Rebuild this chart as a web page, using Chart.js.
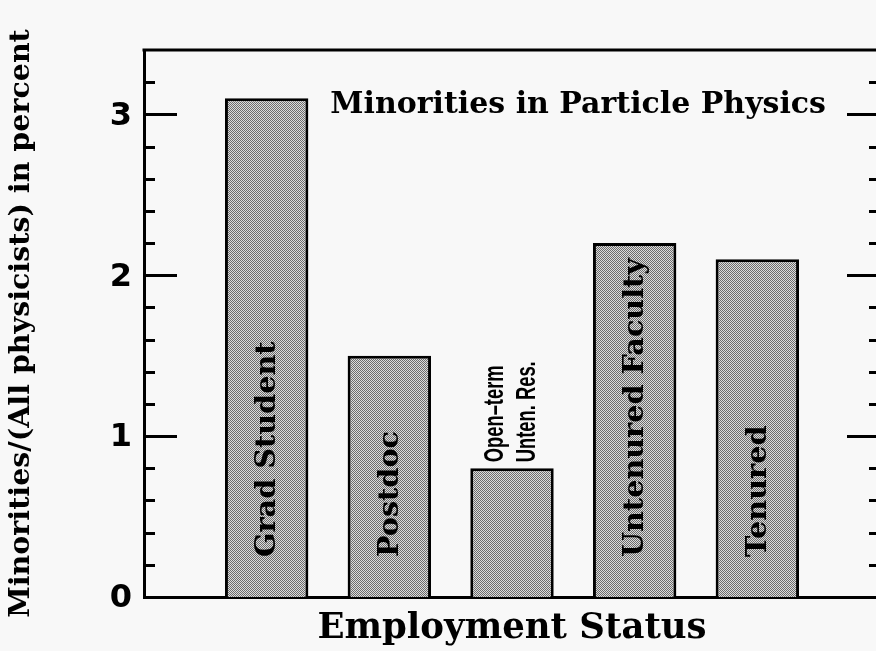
<!DOCTYPE html>
<html>
<head>
<meta charset="utf-8">
<script src="https://cdn.jsdelivr.net/npm/chart.js@4/dist/chart.umd.min.js"></script>
<style>
  html, body { margin: 0; padding: 0; background: #f8f8f8; overflow: hidden; }
  #wrap { width: 890px; height: 651px; }
</style>
</head>
<body>
<div id="wrap"><canvas id="chart" width="890" height="651"></canvas></div>
<script>
"use strict";

const CATEGORIES = ["Grad Student", "Postdoc", "Open–term\nUnten. Res.", "Untenured Faculty", "Tenured"];
const PERCENTAGES = [3.1, 1.5, 0.8, 2.2, 2.1];
const Y_TICK_LABELS = ["0", "1", "2", "3"];
const Y_MAX = 3.4;
const MINOR_STEP = 0.2;
const TITLE = "Minorities in Particle Physics";
const X_TITLE = "Employment Status";
const Y_TITLE = "Minorities/(All physicists) in percent";

const SERIF = "'DejaVu Serif', serif";
const SANS = "'DejaVu Sans', sans-serif";

const canvas = document.getElementById("chart");
const ctx2d = canvas.getContext("2d");

// grey dither like the printed fill
const makeDither = () => {
  const c = document.createElement("canvas");
  c.width = 2;
  c.height = 2;
  const g = c.getContext("2d");
  g.fillStyle = "#dcdcdc";
  g.fillRect(0, 0, 2, 2);
  g.fillStyle = "#6c6c6c";
  g.fillRect(0, 0, 1, 1);
  g.fillRect(1, 1, 1, 1);
  return ctx2d.createPattern(c, "repeat");
};

// frame, inner ticks, title and labels on the bars
const framePlugin = {
  id: "frame",
  afterDatasetsDraw(chart) {
    const { ctx, chartArea: a } = chart;
    const ys = chart.scales.y;
    ctx.save();
    ctx.strokeStyle = "#000";
    ctx.lineWidth = 3;
    ctx.beginPath();
    ctx.moveTo(a.left - 1.5, a.top);
    ctx.lineTo(a.right, a.top);
    ctx.lineTo(a.right, a.bottom);
    ctx.stroke();

    const n = Math.round(Y_MAX / MINOR_STEP);
    for (let i = 1; i < n; i++) {
      const v = i * MINOR_STEP;
      const y = Math.round(ys.getPixelForValue(v)) + 0.5;
      const major = Math.abs(v - Math.round(v)) < 1e-6;
      const len = major ? 33 : 11;
      ctx.beginPath();
      ctx.moveTo(a.left, y);
      ctx.lineTo(a.left + len, y);
      ctx.moveTo(a.right - len, y);
      ctx.lineTo(a.right, y);
      ctx.stroke();
    }

    ctx.fillStyle = "#000";
    ctx.font = "bold 30px " + SERIF;
    ctx.textAlign = "right";
    ctx.textBaseline = "alphabetic";
    ctx.fillText(TITLE, a.right - 54, ys.getPixelForValue(3) - 1);

    const bars = chart.getDatasetMeta(0).data;
    bars.forEach((bar, i) => {
      const label = CATEGORIES[i].split("\n");
      ctx.save();
      if (label.length === 1) {
        ctx.font = "bold 28.7px " + SERIF;
        ctx.translate(bar.x + 1, bar.base - 40);
        ctx.rotate(-Math.PI / 2);
        ctx.textAlign = "left";
        ctx.textBaseline = "middle";
        ctx.fillText(label[0], 0, 0);
      } else {
        // short bar: condensed sans label stacked above it
        ctx.font = "bold 27px 'Liberation Sans', sans-serif";
        ctx.translate(bar.x, bar.y - 6);
        ctx.rotate(-Math.PI / 2);
        ctx.scale(0.68, 1);
        ctx.textAlign = "left";
        ctx.textBaseline = "middle";
        label.forEach((t, k) => ctx.fillText(t, 0, (k - 0.5) * 32));
      }
      ctx.restore();
    });
    ctx.restore();
  },
};

new Chart(canvas, {
  type: "bar",
  data: {
    datasets: [
      {
        data: PERCENTAGES.map((v, i) => ({ x: i + 1, y: v })),
        backgroundColor: makeDither(),
        borderColor: "#000",
        borderWidth: 3,
        barPercentage: 0.68,
        categoryPercentage: 1,
      },
    ],
  },
  options: {
    responsive: false,
    animation: false,
    layout: { padding: { top: 50, right: 10, left: 0, bottom: 0 } },
    plugins: { legend: { display: false }, title: { display: false }, tooltip: { enabled: false } },
    scales: {
      x: {
        type: "linear",
        min: 0,
        max: CATEGORIES.length + 1,
        offset: false,
        ticks: { display: false },
        grid: { display: false, drawTicks: false, offset: false },
        border: { display: true, color: "#000", width: 3 },
        afterFit: (s) => { s.height = 54; },
        title: {
          display: true,
          text: X_TITLE,
          color: "#000",
          font: { family: SERIF, size: 35.5, weight: "bold" },
          padding: { top: 0, bottom: 1 },
        },
      },
      y: {
        min: 0,
        max: Y_MAX,
        afterBuildTicks: (s) => { s.ticks = Y_TICK_LABELS.map((t) => ({ value: Number(t) })); },
        afterFit: (s) => { s.width = 144; },
        ticks: {
          color: "#000",
          padding: 12,
          labelOffset: 2,
          font: { family: SANS, size: 32, weight: "bold" },
          callback: (v) => String(v),
        },
        grid: { display: false, drawTicks: false },
        border: { display: true, color: "#000", width: 3 },
        title: {
          display: true,
          text: Y_TITLE,
          color: "#000",
          font: { family: SERIF, size: 28.5, weight: "bold" },
          padding: { top: 4, bottom: 0 },
        },
      },
    },
  },
  plugins: [framePlugin],
});
</script>
</body>
</html>
